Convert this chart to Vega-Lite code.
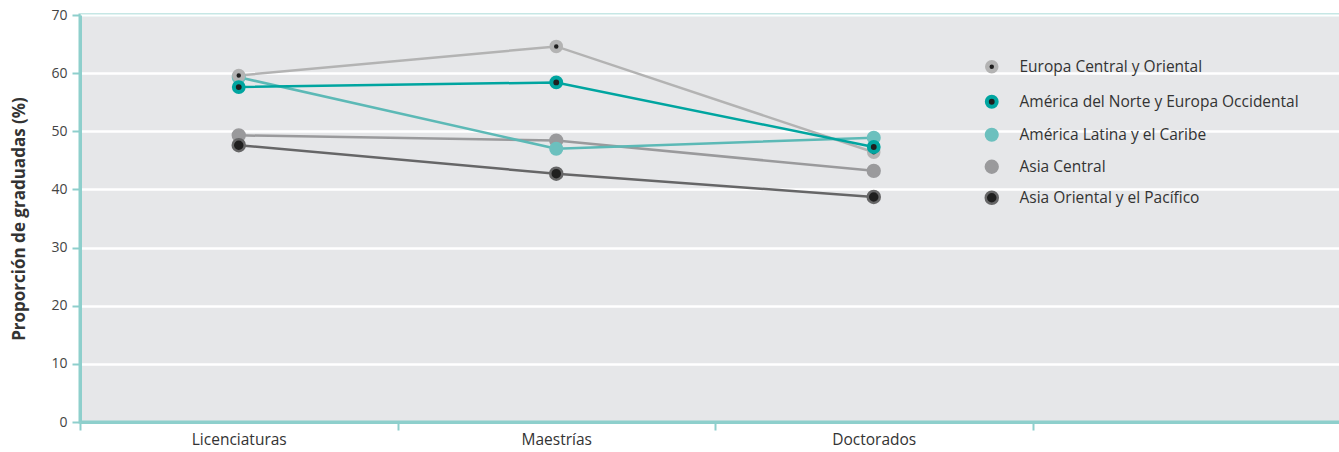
{
  "$schema": "https://vega.github.io/schema/vega-lite/v6.json",
  "width": 1270,
  "height": 407,
  "padding": {"left": 10, "top": 8, "right": 0, "bottom": 0},
  "background": "white",
  "config": {
    "font": "Open Sans",
    "view": {"fill": "#e6e7e9", "stroke": "#8ecfcc", "strokeWidth": 3},
    "axis": {"domainColor": "#8ecfcc", "domainWidth": 3, "tickColor": "#8ecfcc", "tickWidth": 2, "tickSize": 8, "labelColor": "#444", "titleColor": "#333"}
  },
  "data": {"values": [
    {"region": "Asia Central", "nivel": "Licenciaturas", "valor": 49.3},
    {"region": "Asia Central", "nivel": "Maestrías", "valor": 48.4},
    {"region": "Asia Central", "nivel": "Doctorados", "valor": 43.2},
    {"region": "Asia Oriental y el Pacífico", "nivel": "Licenciaturas", "valor": 47.6},
    {"region": "Asia Oriental y el Pacífico", "nivel": "Maestrías", "valor": 42.7},
    {"region": "Asia Oriental y el Pacífico", "nivel": "Doctorados", "valor": 38.7},
    {"region": "América Latina y el Caribe", "nivel": "Licenciaturas", "valor": 59.3},
    {"region": "América Latina y el Caribe", "nivel": "Maestrías", "valor": 47.0},
    {"region": "América Latina y el Caribe", "nivel": "Doctorados", "valor": 48.9},
    {"region": "Europa Central y Oriental", "nivel": "Licenciaturas", "valor": 59.6},
    {"region": "Europa Central y Oriental", "nivel": "Maestrías", "valor": 64.6},
    {"region": "Europa Central y Oriental", "nivel": "Doctorados", "valor": 46.4},
    {"region": "América del Norte y Europa Occidental", "nivel": "Licenciaturas", "valor": 57.6},
    {"region": "América del Norte y Europa Occidental", "nivel": "Maestrías", "valor": 58.4},
    {"region": "América del Norte y Europa Occidental", "nivel": "Doctorados", "valor": 47.3}
  ]},
  "encoding": {
    "x": {
      "field": "nivel", "type": "nominal",
      "scale": {"domain": ["Licenciaturas", "Maestrías", "Doctorados", " "], "paddingInner": 0, "paddingOuter": 0},
      "axis": {"title": null, "labelAngle": 0, "labelFontSize": 15.5, "labelColor": "#333", "labelPadding": 2, "tickBand": "extent", "values": ["Licenciaturas", "Maestrías", "Doctorados"], "grid": false}
    },
    "y": {
      "field": "valor", "type": "quantitative",
      "scale": {"domain": [0, 70]},
      "axis": {"title": "Proporción de graduadas (%)", "titleFontSize": 17, "titleFontWeight": "bold", "titlePadding": 22, "labelFontSize": 14, "labelPadding": 5, "values": [0, 10, 20, 30, 40, 50, 60, 70], "grid": true, "gridColor": "white", "gridWidth": 2.5, "gridOpacity": 1}
    }
  },
  "layer": [
    {
      "mark": {"type": "line", "strokeWidth": 2.5},
      "encoding": {
        "detail": {"field": "region", "type": "nominal"},
        "color": {
          "field": "region", "type": "nominal",
          "scale": {"domain": ["Asia Oriental y el Pacífico", "Asia Central", "América Latina y el Caribe", "América del Norte y Europa Occidental", "Europa Central y Oriental"], "range": ["#666667", "#9a9a9c", "#5cb9b6", "#00a5a0", "#b3b3b3"]},
          "legend": null
        }
      }
    },
    {
      "mark": {"type": "point", "filled": true, "opacity": 1},
      "encoding": {
        "stroke": {
          "field": "region", "type": "nominal",
          "scale": {"domain": ["Europa Central y Oriental", "América del Norte y Europa Occidental", "América Latina y el Caribe", "Asia Central", "Asia Oriental y el Pacífico"], "range": ["#b3b3b3", "#00a5a0", "#6cc0be", "#9a9a9c", "#666667"]},
          "legend": {"title": null, "orient": "none", "legendX": 904, "legendY": 44, "labelFontSize": 15.5, "labelColor": "#333", "labelOffset": 20, "labelLimit": 0, "rowPadding": 7, "symbolType": "circle"}
        },
        "fill": {
          "field": "region", "type": "nominal",
          "scale": {"domain": ["Europa Central y Oriental", "América del Norte y Europa Occidental", "América Latina y el Caribe", "Asia Central", "Asia Oriental y el Pacífico"], "range": ["#1f1f1f", "#1f1f1f", "#6cc0be", "#9a9a9c", "#1f1f1f"]},
          "legend": {"title": null, "orient": "none", "legendX": 904, "legendY": 44, "labelFontSize": 15.5, "labelColor": "#333", "labelOffset": 20, "labelLimit": 0, "rowPadding": 7, "symbolType": "circle"}
        },
        "size": {
          "field": "region", "type": "nominal",
          "scale": {"domain": ["Europa Central y Oriental", "América del Norte y Europa Occidental", "América Latina y el Caribe", "Asia Central", "Asia Oriental y el Pacífico"], "range": [81, 144, 169, 169, 144]},
          "legend": {"title": null, "orient": "none", "legendX": 904, "legendY": 44, "labelLimit": 0, "rowPadding": 7, "labelOffset": 20}
        },
        "strokeWidth": {
          "field": "region", "type": "nominal",
          "scale": {"domain": ["Europa Central y Oriental", "América del Norte y Europa Occidental", "América Latina y el Caribe", "Asia Central", "Asia Oriental y el Pacífico"], "range": [4.5, 2.5, 2, 2, 3]},
          "legend": {"title": null, "orient": "none", "legendX": 904, "legendY": 44, "labelLimit": 0, "rowPadding": 7, "labelOffset": 20}
        }
      }
    }
  ]
}
